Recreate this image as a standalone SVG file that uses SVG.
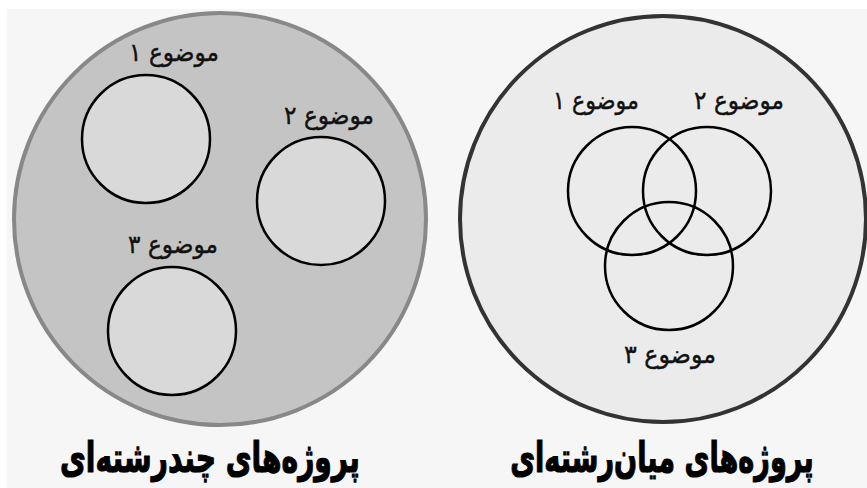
<svg xmlns="http://www.w3.org/2000/svg" width="867" height="488" viewBox="0 0 867 488">
<style>
.lbl{font-family:"DejaVu Sans","Noto Sans",sans-serif;font-size:25px;fill:#111;stroke:#111;stroke-width:0.4;text-anchor:middle;direction:rtl}
.ttl{font-family:"DejaVu Sans","Noto Sans",sans-serif;font-size:42px;font-weight:bold;fill:#000;stroke:#000;stroke-width:1.2;text-anchor:middle;direction:rtl}
.sub{stroke:#000;stroke-width:2.5}
</style>
<rect width="867" height="488" fill="#ffffff"/>
<rect x="7" y="9" width="860" height="479" fill="#f6f6f6"/>
<g id="multi">
<circle cx="220" cy="219" r="206" fill="#c4c4c4" stroke="#888" stroke-width="4"/>
<g id="m1"><circle class="sub" cx="146" cy="139" r="64" fill="#d9d9d9"/><text class="lbl" x="174" y="61" textLength="90" lengthAdjust="spacingAndGlyphs">موضوع ۱</text></g>
<g id="m2"><circle class="sub" cx="321" cy="201" r="64" fill="#d9d9d9"/><text class="lbl" x="329" y="124" textLength="90" lengthAdjust="spacingAndGlyphs">موضوع ۲</text></g>
<g id="m3"><circle class="sub" cx="172" cy="331" r="64" fill="#d9d9d9"/><text class="lbl" x="173" y="253" textLength="90" lengthAdjust="spacingAndGlyphs">موضوع ۳</text></g>
<text class="ttl" transform="translate(210,472) scale(0.67,1)">پروژه‌های چندرشته‌ای</text>
</g>
<g id="inter">
<circle cx="663" cy="219" r="203" fill="#ebebeb" stroke="#333" stroke-width="4"/>
<g id="i1"><circle class="sub" cx="632" cy="191" r="64" fill="none"/><text class="lbl" x="596" y="109" textLength="86" lengthAdjust="spacingAndGlyphs">موضوع ۱</text></g>
<g id="i2"><circle class="sub" cx="707" cy="191" r="64" fill="none"/><text class="lbl" x="739" y="109" textLength="90" lengthAdjust="spacingAndGlyphs">موضوع ۲</text></g>
<g id="i3"><circle class="sub" cx="669" cy="266" r="64" fill="none"/><text class="lbl" x="670" y="363" textLength="92" lengthAdjust="spacingAndGlyphs">موضوع ۳</text></g>
<text class="ttl" transform="translate(662,472) scale(0.645,1)">پروژه‌های میان‌رشته‌ای</text>
</g>
<g id="connectors"/>
</svg>
